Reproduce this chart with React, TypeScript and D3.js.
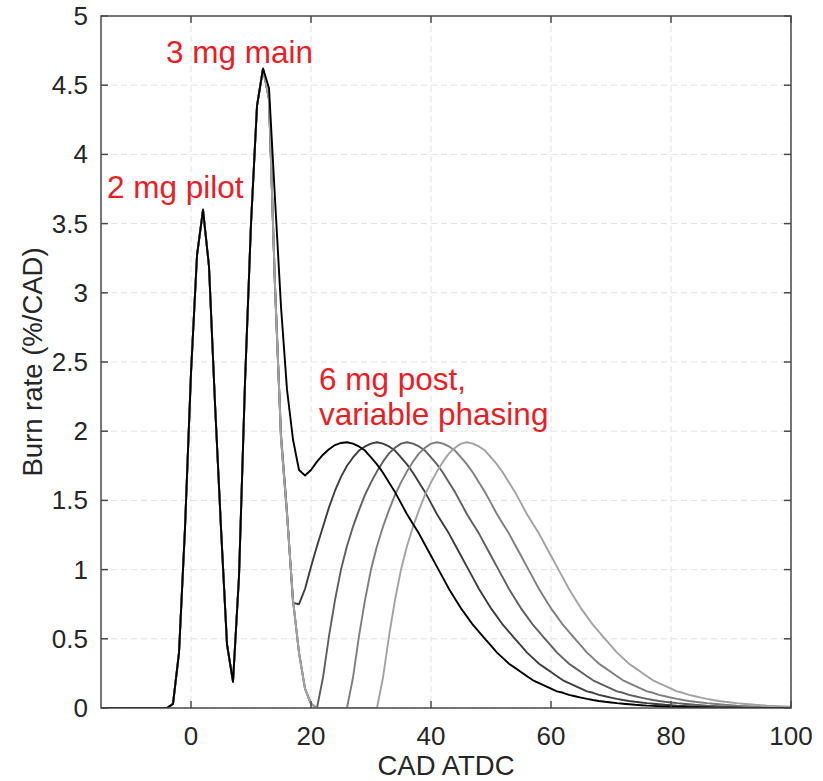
import React from "react";
import * as d3 from "d3";

// ---- data ----
const xTicks = [0, 20, 40, 60, 80, 100];
const yTicks = [0, 0.5, 1, 1.5, 2, 2.5, 3, 3.5, 4, 4.5, 5];
const yTickLabels = ["0", "0.5", "1", "1.5", "2", "2.5", "3", "3.5", "4", "4.5", "5"];

// shared pilot + main injection part (CAD ATDC, burn rate %/CAD)
const pilotMainX = [-15, -4, -3, -2, -1, 0, 1, 2, 3, 4, 5, 6, 7, 8, 9, 10, 11, 12];
const pilotMainY = [0, 0, 0.03, 0.4, 1.3, 2.42, 3.27, 3.6, 3.19, 2.2, 1.3, 0.46, 0.19, 0.95, 2.35, 3.5, 4.35, 4.62];

// each tail starts at 13 CAD and advances 1 CAD per value
const tailStartX = 13;

const tailBlack = [
  4.48, 3.68, 2.9, 2.3, 1.94, 1.72, 1.68, 1.72, 1.78, 1.83, 1.87, 1.9, 1.915, 1.92,
  1.91, 1.89, 1.86, 1.81, 1.76, 1.7, 1.63, 1.56, 1.48, 1.4, 1.33, 1.26, 1.18, 1.1, 1.02, 0.94,
  0.86, 0.79, 0.72, 0.66, 0.6, 0.55, 0.5, 0.45, 0.4, 0.36, 0.32, 0.29, 0.26, 0.23, 0.2, 0.18,
  0.16, 0.14, 0.12, 0.11, 0.095, 0.085, 0.075, 0.066, 0.058, 0.051, 0.045, 0.04, 0.035, 0.031,
  0.027, 0.023, 0.02, 0.017, 0.015, 0.013, 0.011, 0.009, 0.008, 0.007, 0.006, 0.005, 0.004,
  0.004, 0.003, 0.003, 0.002, 0.002, 0.002, 0.001, 0.001, 0.001, 0.001, 0.001, 0, 0, 0, 0,
];

const tailPhase2 = [
  4.4, 3.05, 1.98, 1.42, 0.76, 0.75, 0.86, 1.02, 1.17, 1.31, 1.45, 1.57, 1.67, 1.75, 1.81, 1.86,
  1.89, 1.91, 1.92,
  1.91, 1.89, 1.86, 1.81, 1.76, 1.7, 1.63, 1.56, 1.48, 1.4, 1.33, 1.26, 1.18, 1.1, 1.02, 0.94,
  0.86, 0.79, 0.72, 0.66, 0.6, 0.55, 0.5, 0.45, 0.4, 0.36, 0.32, 0.29, 0.26, 0.23, 0.2, 0.18,
  0.16, 0.14, 0.12, 0.11, 0.095, 0.085, 0.075, 0.066, 0.058, 0.051, 0.045, 0.04, 0.035, 0.031,
  0.027, 0.023, 0.02, 0.017, 0.015, 0.013, 0.011, 0.009, 0.008, 0.007, 0.006, 0.005, 0.004,
  0.004, 0.003, 0.003, 0.002, 0.002, 0.002, 0.001, 0.001, 0.001,
];

const tailPhase3 = [
  4.4, 3.05, 1.95, 1.4, 0.78, 0.4, 0.14, 0.03, 0,
  0.22, 0.52, 0.78, 1.0, 1.17, 1.31, 1.43, 1.54, 1.63, 1.71, 1.78, 1.84, 1.88, 1.91, 1.92,
  1.91, 1.89, 1.86, 1.81, 1.76, 1.7, 1.63, 1.56, 1.48, 1.4, 1.33, 1.26, 1.18, 1.1, 1.02, 0.94,
  0.86, 0.79, 0.72, 0.66, 0.6, 0.55, 0.5, 0.45, 0.4, 0.36, 0.32, 0.29, 0.26, 0.23, 0.2, 0.18,
  0.16, 0.14, 0.12, 0.11, 0.095, 0.085, 0.075, 0.066, 0.058, 0.051, 0.045, 0.04, 0.035, 0.031,
  0.027, 0.023, 0.02, 0.017, 0.015, 0.013, 0.011, 0.009, 0.008, 0.007, 0.006, 0.005, 0.004,
  0.004, 0.003, 0.003, 0.002, 0.002,
];

const tailPhase4 = [
  4.4, 3.05, 1.95, 1.4, 0.78, 0.4, 0.14, 0.03, 0, 0, 0, 0, 0, 0,
  0.22, 0.52, 0.78, 1.0, 1.17, 1.31, 1.43, 1.54, 1.63, 1.71, 1.78, 1.84, 1.88, 1.91, 1.92,
  1.91, 1.89, 1.86, 1.81, 1.76, 1.7, 1.63, 1.56, 1.48, 1.4, 1.33, 1.26, 1.18, 1.1, 1.02, 0.94,
  0.86, 0.79, 0.72, 0.66, 0.6, 0.55, 0.5, 0.45, 0.4, 0.36, 0.32, 0.29, 0.26, 0.23, 0.2, 0.18,
  0.16, 0.14, 0.12, 0.11, 0.095, 0.085, 0.075, 0.066, 0.058, 0.051, 0.045, 0.04, 0.035, 0.031,
  0.027, 0.023, 0.02, 0.017, 0.015, 0.013, 0.011, 0.009,
];

const tailPhase5 = [
  4.4, 3.05, 1.95, 1.4, 0.78, 0.4, 0.14, 0.03, 0, 0, 0, 0, 0, 0, 0, 0, 0, 0, 0,
  0.22, 0.52, 0.78, 1.0, 1.17, 1.31, 1.43, 1.54, 1.63, 1.71, 1.78, 1.84, 1.88, 1.91, 1.92,
  1.91, 1.89, 1.86, 1.81, 1.76, 1.7, 1.63, 1.56, 1.48, 1.4, 1.33, 1.26, 1.18, 1.1, 1.02, 0.94,
  0.86, 0.79, 0.72, 0.66, 0.6, 0.55, 0.5, 0.45, 0.4, 0.36, 0.32, 0.29, 0.26, 0.23, 0.2, 0.18,
  0.16, 0.14, 0.12, 0.11, 0.095, 0.085, 0.075, 0.066, 0.058, 0.051, 0.045, 0.04, 0.035, 0.031,
  0.027, 0.023, 0.02, 0.017, 0.015, 0.013, 0.011, 0.009,
];

const seriesTails = [tailPhase2, tailPhase3, tailPhase4, tailPhase5, tailBlack];
const seriesColors = ["#3d3d3d", "#5e5e5e", "#7e7e7e", "#a2a2a2", "#000000"];

const annotations = [
  { text: "3 mg main", x: 166, y: 63 },
  { text: "2 mg pilot", x: 107, y: 198 },
  { text: "6 mg post,", x: 319, y: 390 },
  { text: "variable phasing", x: 319, y: 425 },
];

// ---- layout ----
const W = 823;
const H = 781;
const L = 101;
const R = 791;
const T = 16;
const B = 708;
const FONT = "'Liberation Sans', Arial, Helvetica, sans-serif";

export default function App() {
  const x = d3.scaleLinear().domain([-15, 100]).range([L, R]);
  const y = d3.scaleLinear().domain([0, 5]).range([B, T]);

  const line = d3
    .line<[number, number]>()
    .x((d) => x(d[0]))
    .y((d) => y(d[1]));

  const paths = seriesTails.map((tail) => {
    const pts: [number, number][] = pilotMainX.map((v, i) => [v, pilotMainY[i]] as [number, number]);
    tail.forEach((v, i) => pts.push([tailStartX + i, v]));
    return line(pts) || "";
  });

  const tickLen = 7;
  const axisColor = "#4a4a4a";
  const textColor = "#262626";

  return (
    <svg
      width={W}
      height={H}
      style={{ position: "absolute", left: 0, top: 0, background: "#fff" }}
      fontFamily={FONT}
    >
      <defs>
        <clipPath id="plotclip">
          <rect x={L} y={T} width={R - L} height={B - T} />
        </clipPath>
      </defs>
      <rect x={0} y={0} width={W} height={H} fill="#fff" />

      {/* grid */}
      {xTicks.map((t) => (
        <line key={"gx" + t} x1={x(t)} x2={x(t)} y1={T} y2={B} stroke="#e2e2e2" strokeWidth={1} strokeDasharray="6,4" />
      ))}
      {yTicks.map((t) => (
        <line key={"gy" + t} x1={L} x2={R} y1={y(t)} y2={y(t)} stroke="#e2e2e2" strokeWidth={1} strokeDasharray="6,4" />
      ))}

      {/* curves */}
      <g clipPath="url(#plotclip)">
        {paths.map((p, i) => (
          <path key={i} d={p} fill="none" stroke={seriesColors[i]} strokeWidth={1.9} strokeLinejoin="round" />
        ))}
      </g>

      {/* box and ticks */}
      <rect x={L} y={T} width={R - L} height={B - T} fill="none" stroke={axisColor} strokeWidth={1.5} />
      {xTicks.map((t) => (
        <g key={"tx" + t}>
          <line x1={x(t)} x2={x(t)} y1={B} y2={B - tickLen} stroke={axisColor} strokeWidth={1.5} />
          <line x1={x(t)} x2={x(t)} y1={T} y2={T + tickLen} stroke={axisColor} strokeWidth={1.5} />
          <text x={x(t)} y={745} textAnchor="middle" fontSize={26} fill={textColor}>
            {t}
          </text>
        </g>
      ))}
      {yTicks.map((t, i) => (
        <g key={"ty" + t}>
          <line x1={L} x2={L + tickLen} y1={y(t)} y2={y(t)} stroke={axisColor} strokeWidth={1.5} />
          <line x1={R} x2={R - tickLen} y1={y(t)} y2={y(t)} stroke={axisColor} strokeWidth={1.5} />
          <text x={88} y={y(t) + 9} textAnchor="end" fontSize={26} fill={textColor}>
            {yTickLabels[i]}
          </text>
        </g>
      ))}

      {/* axis labels */}
      <text x={(L + R) / 2} y={775} textAnchor="middle" fontSize={27.5} fill={textColor}>
        CAD ATDC
      </text>
      <text
        transform={`translate(42, ${(T + B) / 2}) rotate(-90)`}
        textAnchor="middle"
        fontSize={27.5}
        fill={textColor}
      >
        Burn rate (%/CAD)
      </text>

      {/* annotations */}
      {annotations.map((a) => (
        <text key={a.text} x={a.x} y={a.y} fontSize={31.5} fill="#ec1c24">
          {a.text}
        </text>
      ))}
    </svg>
  );
}
